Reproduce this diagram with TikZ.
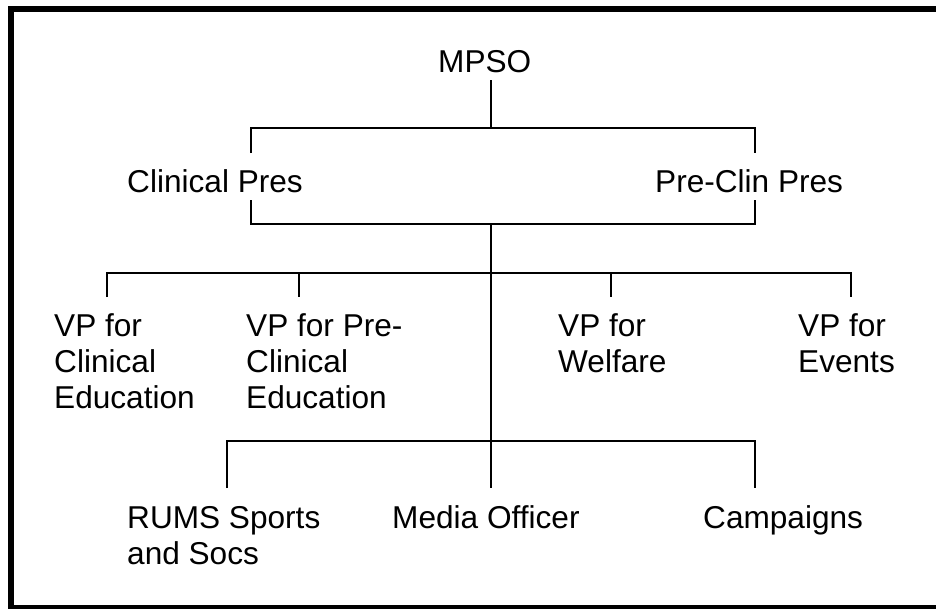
\documentclass[tikz,border=0pt]{standalone}
\usepackage{fontspec}
\setmainfont{Liberation Sans}
\begin{document}
\begin{tikzpicture}[x=1pt,y=-1pt,
		post/.style={anchor=base west, inner sep=0pt, align=left, font=\fontsize{31.6}{36}\selectfont},
		branch/.style={line width=1.6pt}]
		
		% Page and frame
		\useasboundingbox (0,0) rectangle (936,608);
		\clip (0,0) rectangle (936,608);
		\fill[white] (0,0) rectangle (936,608);
		\draw[line width=6pt] (10.5,8.5) rectangle (945,608);
		
		% Posts (base west sits on the last line)
		\node[post] (mpso) at (438,72) {MPSO};
		\node[post] (clinpres) at (127,192) {Clinical Pres};
		\node[post] (preclinpres) at (655,192) {Pre-Clin Pres};
		\node[post] (vpclined) at (54,408) {VP for\\Clinical\\Education};
		\node[post] (vppreclined) at (246,408) {VP for Pre-\\Clinical\\Education};
		\node[post] (vpwelfare) at (558,372) {VP for\\Welfare};
		\node[post] (vpevents) at (798,372) {VP for\\Events};
		\node[post] (rums) at (127,564) {RUMS Sports\\and Socs};
		\node[post] (media) at (392,528) {Media Officer};
		\node[post] (campaigns) at (703,528) {Campaigns};
		
		% Junction points
		\coordinate (mpsofoot) at (491,80);
		\coordinate (presbar) at (491,128);
		\coordinate (clintop) at (251,153);
		\coordinate (preclintop) at (755,153);
		\coordinate (clinfoot) at (251,200);
		\coordinate (preclinfoot) at (755,200);
		\coordinate (joinbar) at (491,224);
		\coordinate (vpbar) at (491,272.7);
		\coordinate (offbar) at (491,440.7);
		\coordinate (mediatop) at (491,488);
		
		% MPSO to the presidents
		\draw[branch] (mpsofoot) -- (presbar);
		\draw[branch] (clintop) |- (presbar) -| (preclintop);
		
		% Presidents down to the trunk
		\draw[branch] (clinfoot) |- (joinbar) -| (preclinfoot);
		\draw[branch] (joinbar) -- (mediatop);
		
		% Vice presidents
		\draw[branch] (107,297) |- (vpbar) -| (851,297);
		\draw[branch] (299,272.7) -- (299,297);
		\draw[branch] (611,272.7) -- (611,297);
		
		% Officers
		\draw[branch] (227,488) |- (offbar) -| (755,488);
		
	\end{tikzpicture}
\end{document}
